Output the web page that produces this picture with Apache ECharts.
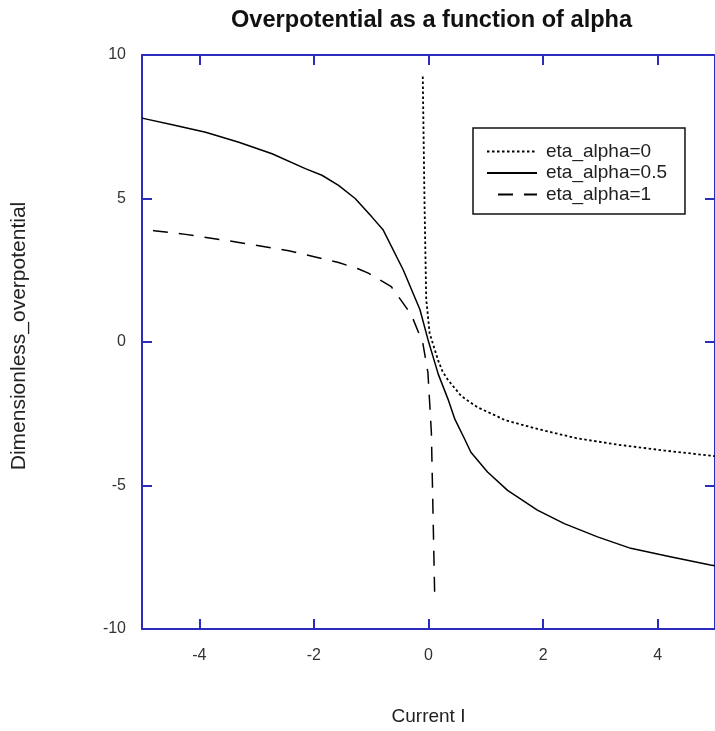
<!DOCTYPE html>
<html>
<head>
<meta charset="utf-8">
<script src="https://cdn.jsdelivr.net/npm/echarts@6/dist/echarts.min.js"></script>
<style>html,body{margin:0;padding:0;background:#fff}#c{width:715px;height:731px}</style>
</head>
<body>
<div id="c"></div>
<script>
// Tick labels
var xTicks = [-4, -2, 0, 2, 4];
var yTicks = [-10, -5, 0, 5, 10];

// eta_alpha=0 (dotted)
var alpha0X = [-0.1, -0.07, -0.04, 0.02, 0.17, 0.25, 0.34, 0.57, 0.69, 0.86, 1.21, 1.33, 1.90, 2.60, 3.35, 4.11, 4.92, 5.0];
var alpha0Y = [9.25, 4.9, 1.5, 0.3, -0.65, -1.05, -1.32, -1.88, -2.05, -2.28, -2.6, -2.72, -3.03, -3.36, -3.59, -3.78, -3.96, -3.98];

// eta_alpha=0.5 (solid)
var alpha05X = [-5, -4.47, -3.89, -3.31, -2.73, -2.15, -1.86, -1.57, -1.28, -0.99, -0.79, -0.44, -0.15, -0.01, 0.17, 0.34, 0.46, 0.63, 0.74, 1.03, 1.38, 1.90, 2.37, 2.95, 3.53, 4.22, 4.92, 5.0];
var alpha05Y = [7.8, 7.57, 7.31, 6.96, 6.56, 6.04, 5.81, 5.46, 5.0, 4.36, 3.9, 2.51, 1.13, 0.09, -1.12, -1.99, -2.69, -3.38, -3.84, -4.53, -5.17, -5.86, -6.33, -6.79, -7.19, -7.48, -7.77, -7.8];

// eta_alpha=1 (dashed)
var alpha1X = [-5, -4.79, -4.24, -3.31, -2.44, -1.57, -1.23, -1.05, -0.65, -0.30, -0.10, -0.01, 0.05, 0.11];
var alpha1Y = [3.92, 3.88, 3.75, 3.47, 3.18, 2.77, 2.55, 2.40, 1.93, 0.95, -0.03, -1.07, -3.15, -9.0];

function pairs(xs, ys) { return xs.map(function (x, i) { return [x, ys[i]]; }); }

var AXIS = '#2b2bbd';
var FONT = '"Liberation Sans", Arial, sans-serif';

function xAx(pos, showLabel) {
  return {
    type: 'value', position: pos, min: -5, max: 5,
    name: showLabel ? 'Current I' : '',
    nameLocation: 'middle', nameGap: 78,
    nameTextStyle: { fontSize: 19, color: '#222', fontFamily: FONT },
    axisLine: { show: true, onZero: false, lineStyle: { color: AXIS, width: 2 } },
    axisTick: { show: true, inside: true, length: 10, customValues: xTicks, lineStyle: { color: AXIS, width: 2 } },
    axisLabel: { show: showLabel, customValues: xTicks, margin: 19, fontSize: 16, color: '#333', fontFamily: FONT },
    splitLine: { show: false }
  };
}
function yAx(pos, showLabel) {
  return {
    type: 'value', position: pos, min: -10, max: 10, interval: 5,
    name: showLabel ? 'Dimensionless_overpotential' : '',
    nameLocation: 'middle', nameGap: 112, nameRotate: 90,
    nameTextStyle: { fontSize: 21, color: '#222', fontFamily: FONT, padding: [0, 0, 0, 12] },
    axisLine: { show: true, onZero: false, lineStyle: { color: AXIS, width: 2 } },
    axisTick: { show: true, inside: true, length: 10, lineStyle: { color: AXIS, width: 2 } },
    axisLabel: { show: showLabel, margin: 16, fontSize: 16, color: '#333', fontFamily: FONT },
    splitLine: { show: false }
  };
}

var chart = echarts.init(document.getElementById('c'), null, { renderer: 'canvas' });
chart.setOption({
  animation: false,
  backgroundColor: '#fff',
  title: {
    text: 'Overpotential as a function of alpha',
    left: 231, top: 8, padding: 0,
    textStyle: { fontSize: 23.6, fontWeight: 'bold', color: '#111', fontFamily: FONT }
  },
  grid: { left: 142, top: 55, width: 577, height: 577, containLabel: false },
  xAxis: [xAx('bottom', true), xAx('top', false)],
  yAxis: [yAx('left', true), yAx('right', false)],
  legend: {
    orient: 'vertical', left: 473, top: 128,
    padding: [14, 18, 10, 13],
    borderColor: '#111', borderWidth: 1.5, backgroundColor: '#fff',
    itemWidth: 50, itemHeight: 14, itemGap: 2.5,
    itemStyle: { opacity: 0 },
    textStyle: { fontSize: 19, lineHeight: 19, color: '#222', fontFamily: FONT, padding: [0, 0, 0, 4] },
    data: ['eta_alpha=0', 'eta_alpha=0.5', 'eta_alpha=1']
  },
  series: [
    { name: 'eta_alpha=0', type: 'line', symbol: 'none', data: pairs(alpha0X, alpha0Y),
      lineStyle: { color: '#000', width: 1.8, type: [2.5, 2.5] }, itemStyle: { color: '#000' } },
    { name: 'eta_alpha=0.5', type: 'line', symbol: 'none', data: pairs(alpha05X, alpha05Y),
      lineStyle: { color: '#000', width: 1.5, type: 'solid' }, itemStyle: { color: '#000' } },
    { name: 'eta_alpha=1', type: 'line', symbol: 'none', data: pairs(alpha1X, alpha1Y),
      lineStyle: { color: '#000', width: 1.5, type: [15, 11], dashOffset: 15 }, itemStyle: { color: '#000' } }
  ]
});
</script>
</body>
</html>
